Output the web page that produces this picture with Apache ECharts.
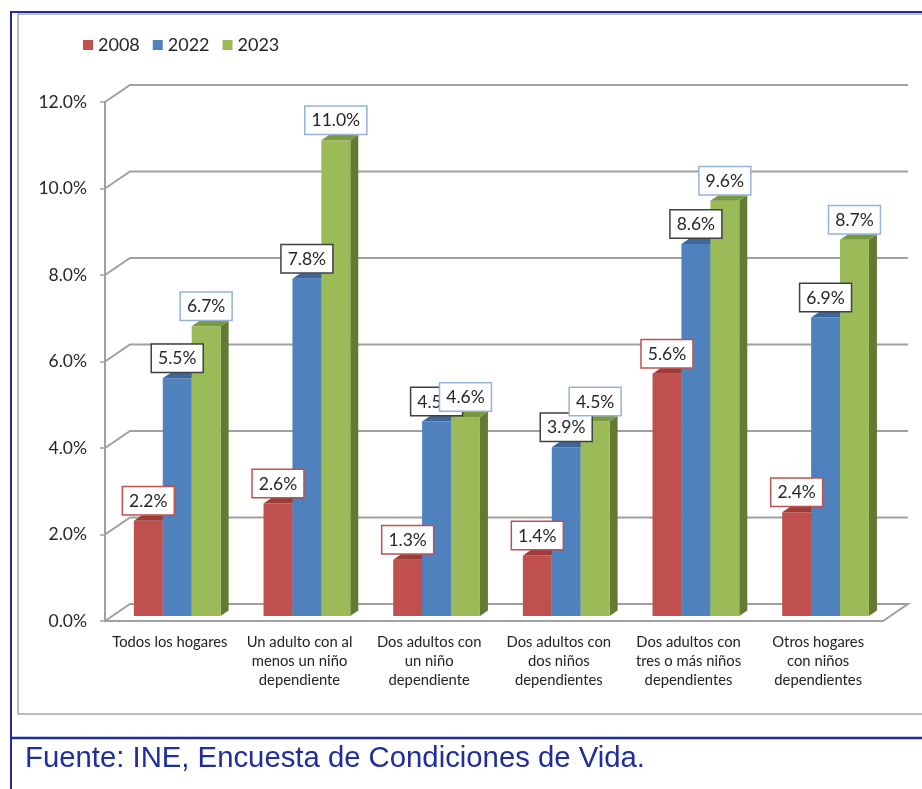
<!DOCTYPE html>
<html>
<head>
<meta charset="utf-8">
<script src="https://cdn.jsdelivr.net/npm/echarts@6/dist/echarts.min.js"></script>
<style>
  html, body { margin: 0; padding: 0; background: #fff; }
  #chart { width: 922px; height: 789px; }
</style>
</head>
<body>
<div id="chart"></div>
<script>
const categories = [
  'Todos los hogares',
  'Un adulto con al\nmenos un niño\ndependiente',
  'Dos adultos con\nun niño\ndependiente',
  'Dos adultos con\ndos niños\ndependientes',
  'Dos adultos con\ntres o más niños\ndependientes',
  'Otros hogares\ncon niños\ndependientes'
];
const years = ['2008', '2022', '2023'];
const values2008 = [2.2, 2.6, 1.3, 1.4, 5.6, 2.4];
const values2022 = [5.5, 7.8, 4.5, 3.9, 8.6, 6.9];
const values2023 = [6.7, 11.0, 4.6, 4.5, 9.6, 8.7];
const yTicks = [0, 2, 4, 6, 8, 10, 12];

const chart = echarts.init(document.getElementById('chart'));
const FONT = 'Lato, "Noto Sans", sans-serif';

// pseudo 3d offsets
const WALL_DX = 25, WALL_DY = -17;   // back wall
const BAR_DX = 7.4, BAR_DY = -5;     // bar front plane
const DEP_DX = 8, DEP_DY = -5.5;     // bar depth

const palette = [
  { front: '#c0504d', top: '#9d3d3a', side: '#8a3533', border: '#c0504d' },
  { front: '#4f81bd', top: '#3d679b', side: '#385d8a', border: '#404040' },
  { front: '#9bbb59', top: '#789a3e', side: '#647a33', border: '#95b3d7' }
];

function barRenderer(s) {
  const c = palette[s];
  return function (params, api) {
    const i = api.value(0), v = api.value(1);
    const base = api.coord([i, 0]);
    const top = api.coord([i, v]);
    const band = api.size([1, 0])[0];
    const bw = band * 0.223;
    const x = base[0] - 1.5 * bw + s * bw + BAR_DX;
    const yb = base[1] + BAR_DY;
    const yt = top[1] + BAR_DY;
    return {
      type: 'group',
      children: [
        { type: 'polygon', z2: 1, shape: { points: [[x + bw, yt], [x + bw + DEP_DX, yt + DEP_DY], [x + bw + DEP_DX, yb + DEP_DY], [x + bw, yb]] }, style: { fill: c.side } },
        { type: 'rect', z2: 2, shape: { x: x, y: yt, width: bw, height: yb - yt }, style: { fill: c.front } },
        { type: 'polygon', z2: 2, shape: { points: [[x, yt], [x + bw, yt], [x + bw + DEP_DX, yt + DEP_DY], [x + DEP_DX, yt + DEP_DY]] }, style: { fill: c.top } },
        {
          type: 'text', z2: 100,
          style: {
            text: v.toFixed(1) + '%',
            x: x + bw / 2, y: yt + DEP_DY - 1,
            align: 'center', verticalAlign: 'bottom',
            fontSize: 17.5, fontFamily: FONT, fill: '#262626',
            backgroundColor: '#fff', borderColor: c.border, borderWidth: 1.5,
            padding: [5, 6, 4, 6]
          }
        }
      ]
    };
  };
}

function wallRenderer(params, api) {
  const v = api.value(1);
  const cs = params.coordSys;
  const x0 = cs.x, x1 = cs.x + cs.width;
  const y = api.coord([0, v])[1];
  const pts = [[x0, y], [x0 + WALL_DX, y + WALL_DY], [x1 + WALL_DX, y + WALL_DY]];
  if (v === 0) pts.push([x1, y]);
  return {
    type: 'polyline',
    shape: { points: pts },
    style: { stroke: '#a0a0a0', lineWidth: 2, fill: null }
  };
}

const seriesValues = [values2008, values2022, values2023];

const option = {
  backgroundColor: '#fff',
  animation: false,
  legend: {
    data: years,
    left: 78, top: 31,
    icon: 'rect', itemWidth: 10, itemHeight: 10, itemGap: 13,
    textStyle: { fontSize: 18, fontFamily: FONT, color: '#262626' }
  },
  grid: { left: 105, top: 102, width: 778, height: 519 },
  xAxis: {
    type: 'category',
    data: categories,
    axisLine: { lineStyle: { color: '#a0a0a0', width: 2 } },
    axisTick: { length: 5, lineStyle: { color: '#a0a0a0', width: 1.5 } },
    axisLabel: { interval: 0, fontSize: 14.8, lineHeight: 19, color: '#222', fontFamily: FONT, margin: 12 }
  },
  yAxis: {
    type: 'value', min: 0, max: 12, interval: 2,
    axisLine: { show: true, lineStyle: { color: '#a0a0a0', width: 2 } },
    axisTick: { show: true, length: 5, lineStyle: { color: '#a0a0a0', width: 1.5 } },
    splitLine: { show: false },
    axisLabel: { formatter: v => v.toFixed(1) + '%', fontSize: 17.5, color: '#262626', fontFamily: FONT, margin: 18 }
  },
  graphic: [
    { type: 'rect', silent: true, shape: { x: 18, y: 14, width: 930, height: 700 }, style: { fill: null, stroke: '#a6a6a6', lineWidth: 1.5 } },
    { type: 'line', silent: true, shape: { x1: 10, y1: 12, x2: 922, y2: 12 }, style: { stroke: '#1f2d9e', lineWidth: 2 } },
    { type: 'line', silent: true, shape: { x1: 11, y1: 12, x2: 11, y2: 789 }, style: { stroke: '#1f2d9e', lineWidth: 2 } },
    { type: 'line', silent: true, shape: { x1: 10, y1: 738, x2: 922, y2: 738 }, style: { stroke: '#1f2d9e', lineWidth: 2.5 } },
    { type: 'text', silent: true, style: { text: 'Fuente: INE, Encuesta de Condiciones de Vida.', x: 25, y: 759, verticalAlign: 'middle', fontSize: 29.3, fontFamily: '"Liberation Sans", Arial, sans-serif', fill: '#1f2d9e' } }
  ],
  series: [
    {
      type: 'custom', name: 'walls', silent: true, z: 1,
      renderItem: wallRenderer,
      data: yTicks.map(v => [0, v])
    }
  ].concat(years.map((y, s) => ({
    type: 'custom', name: y, z: 2,
    itemStyle: { color: palette[s].front },
    renderItem: barRenderer(s),
    data: seriesValues[s].map((v, i) => [i, v])
  })))
};

chart.setOption(option);
window.onresize = chart.resize;
</script>
</body>
</html>
